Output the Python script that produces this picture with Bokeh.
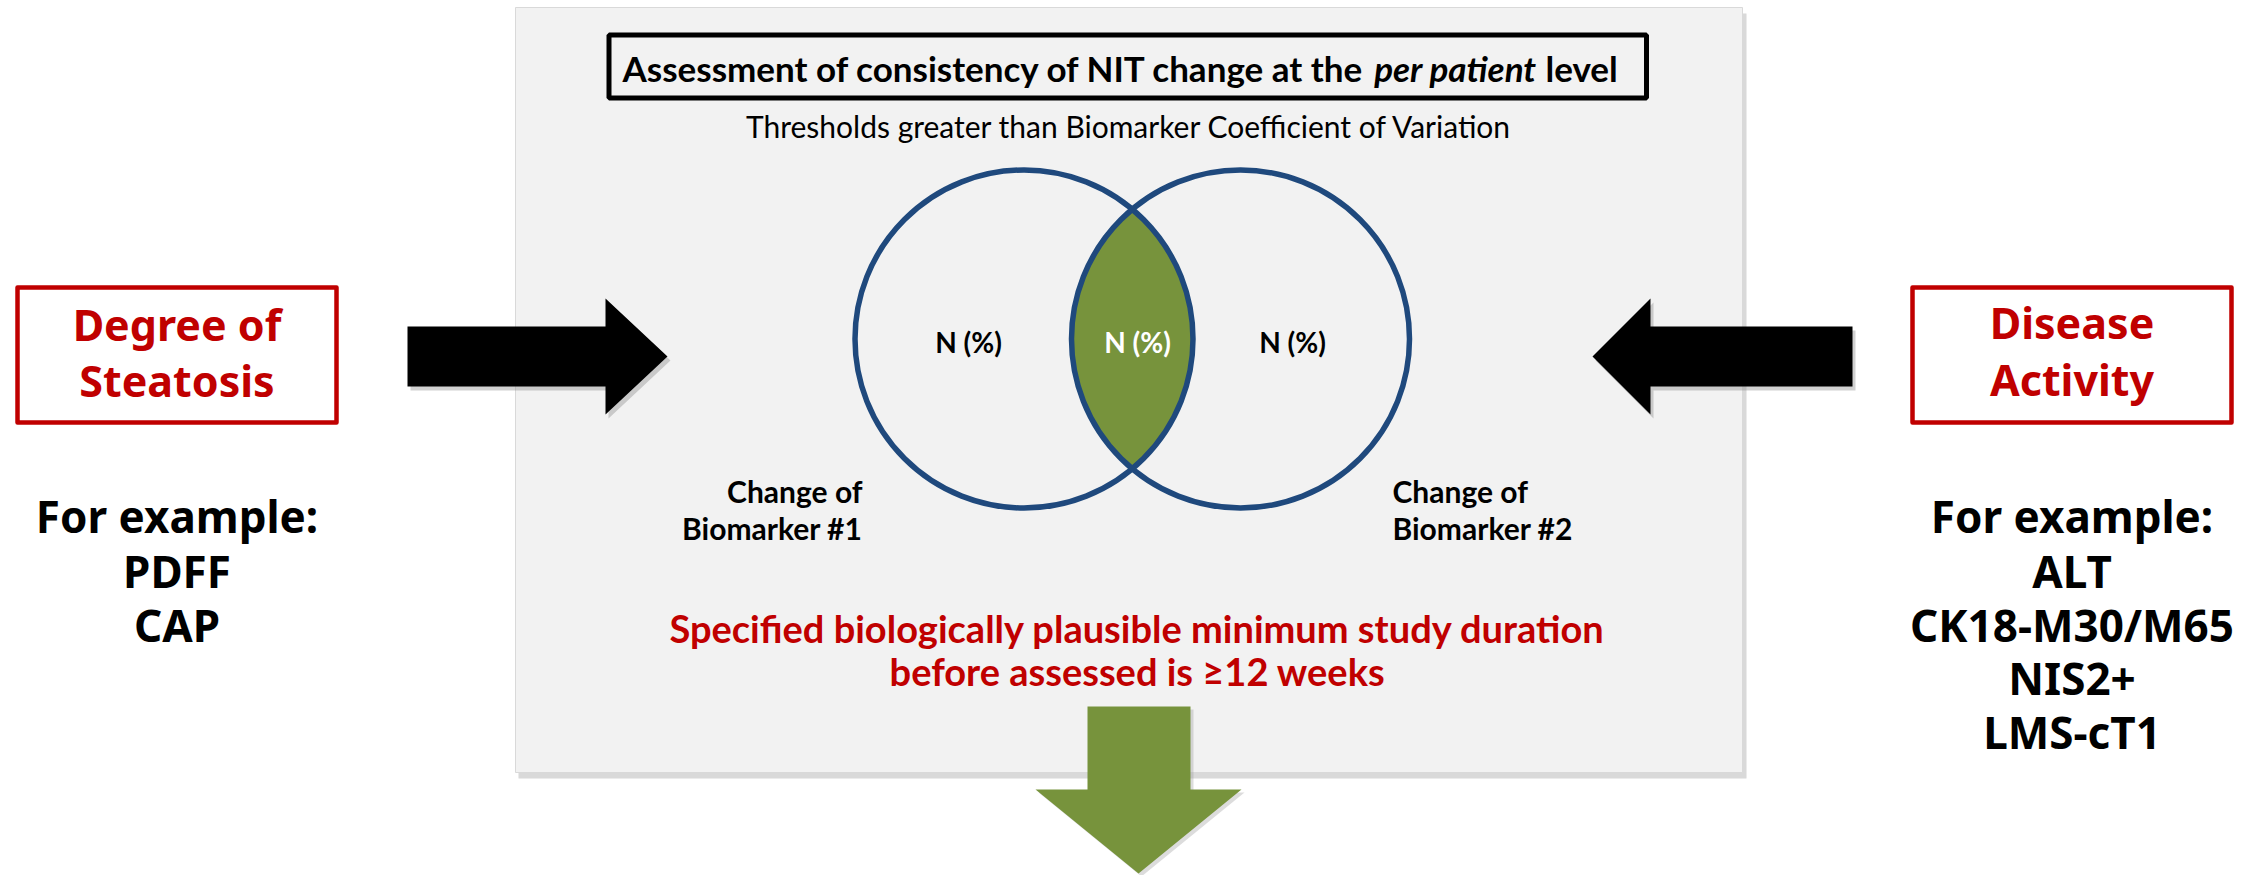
import numpy as np
from bokeh.plotting import figure
from bokeh.models import Range1d, ColumnDataSource
from bokeh.core.properties import value
from bokeh.embed import file_html
from bokeh.resources import INLINE

# ---------------- content ----------------
title_parts = ["Assessment of consistency of NIT change at the", "per patient", "level"]
subtitle = "Thresholds greater than Biomarker Coefficient of Variation"
venn_labels = ["N (%)", "N (%)", "N (%)"]
set1_label = ["Change of", "Biomarker #1"]
set2_label = ["Change of", "Biomarker #2"]
duration_text = ["Specified biologically plausible minimum study duration",
                 "before assessed is \u226512 weeks"]
left_heading = ["Degree of", "Steatosis"]
left_examples = ["For example:", "PDFF", "CAP"]
right_heading = ["Disease", "Activity"]
right_examples = ["For example:", "ALT", "CK18-M30/M65", "NIS2+", "LMS-cT1"]

# ---------------- colours ----------------
RED = "#C00000"
GREEN = "#77933C"
BLUE = "#1F497D"
PANEL = "#F2F2F2"

W, H = 2260, 875
p = figure(width=W, height=H, x_range=Range1d(0, W), y_range=Range1d(H, 0),
           output_backend="svg", toolbar_location=None, x_axis_type=None, y_axis_type=None,
           min_border=0, outline_line_color=None, background_fill_color="white",
           border_fill_color="white")
p.grid.visible = False

tfont = value("Lato")
sfont = value("Noto Sans")

# ---------------- central panel ----------------
px0, px1, py0, py1 = 515, 1742, 7, 772
p.quad(left=px0 + 3, right=px1 + 4, top=py0 + 6, bottom=py1 + 6, fill_color="#BFBFBF",
       fill_alpha=0.6, line_color=None)
p.quad(left=px0, right=px1, top=py0, bottom=py1, fill_color=PANEL, line_color="#D9D9D9",
       line_width=1)

# title box
p.quad(left=608.5, right=1646, top=34.5, bottom=97.5, fill_color=None, line_color="black",
       line_width=5)
p.text(x=[1365], y=[67], text=[title_parts[0]], text_font=tfont, text_font_style="bold",
       text_font_size="35px", text_align="right", text_baseline="middle", text_color="black")
p.text(x=[1455], y=[67], text=[title_parts[1]], text_font=tfont, text_font_style="bold italic",
       text_font_size="35px", text_align="center", text_baseline="middle", text_color="black")
p.text(x=[1545], y=[67], text=[title_parts[2]], text_font=tfont, text_font_style="bold",
       text_font_size="35px", text_align="left", text_baseline="middle", text_color="black")

p.text(x=[1129], y=[125], text=[subtitle], text_font=tfont, text_font_size="30px",
       text_align="center", text_baseline="middle", text_color="black")

# ---------------- Venn ----------------
c1 = (1023.5, 338.5)
c2 = (1240.0, 338.5)
r = 169.0
d = c2[0] - c1[0]
a = np.arccos((d / 2) / r)
t1 = np.linspace(-a, a, 120)                 # right-hand arc of the left circle
t2 = np.linspace(np.pi - a, np.pi + a, 120)  # left-hand arc of the right circle
lens_x = np.concatenate([c1[0] + r * np.cos(t1), c2[0] + r * np.cos(t2)])
lens_y = np.concatenate([c1[1] + r * np.sin(t1), c2[1] + r * np.sin(t2)])
p.patch(lens_x, lens_y, fill_color=GREEN, line_color=None)
p.circle(x=[c1[0], c2[0]], y=[c1[1], c2[1]], radius=r, fill_color=None, line_color=BLUE,
         line_width=5.5)

vsrc = ColumnDataSource(dict(x=[968, 1137, 1292], y=[341, 341, 341], t=venn_labels,
                             c=["black", "white", "black"]))
p.text(x="x", y="y", text="t", text_color="c", source=vsrc, text_font=tfont,
       text_font_style="bold", text_font_size="28px", text_align="center",
       text_baseline="middle")

p.text(x=[862, 862], y=[490, 527], text=set1_label, text_font=tfont, text_font_style="bold",
       text_font_size="30px", text_align="right", text_baseline="middle", text_color="black")
p.text(x=[1392, 1392], y=[490, 527], text=set2_label, text_font=tfont, text_font_style="bold",
       text_font_size="30px", text_align="left", text_baseline="middle", text_color="black")

p.text(x=[1137, 1137], y=[627, 670], text=duration_text, text_font=tfont, text_font_style="bold",
       text_font_size="38px", text_align="center", text_baseline="middle", text_color=RED)

# ---------------- arrows ----------------
gx = [1087, 1190, 1190, 1241, 1138, 1035, 1087]
gy = [706, 706, 789, 789, 873, 789, 789]
p.patch([v + 3 for v in gx], [v + 3 for v in gy], fill_color="#9A9A9A", fill_alpha=0.35,
        line_color=None)
p.patch(gx, gy, fill_color=GREEN, line_color=None)

lx = [407, 605, 605, 667, 605, 605, 407]
ly = [326, 326, 298, 356, 414, 386, 386]
rx = [1852, 1650, 1650, 1592, 1650, 1650, 1852]
for xs, ys in ((lx, ly), (rx, ly)):
    p.patch([v + 3 for v in xs], [v + 4 for v in ys], fill_color="#8C8C8C", fill_alpha=0.4,
            line_color=None)
    p.patch(xs, ys, fill_color="black", line_color=None)

# ---------------- side boxes ----------------
for bx0, bx1, cx, head, hy, ex, ey in (
        (15, 338, 176.5, left_heading, [324, 380], left_examples, [515, 570, 624]),
        (1910, 2233, 2071.5, right_heading, [322, 379], right_examples,
         [515, 570, 624, 677, 731])):
    p.quad(left=bx0 + 2, right=bx1 - 2, top=287, bottom=422, fill_color=None, line_color=RED,
           line_width=4.5, line_join="round")
    p.text(x=[cx, cx], y=hy, text=head, text_font=sfont, text_font_style="bold",
           text_font_size="43px", text_align="center", text_baseline="middle",
           text_color=RED)
    p.text(x=[cx] * len(ex), y=ey, text=ex, text_font=sfont, text_font_style="bold",
           text_font_size="44px", text_align="center", text_baseline="middle",
           text_color="black")

open("out.html", "w").write(file_html(p, INLINE))
